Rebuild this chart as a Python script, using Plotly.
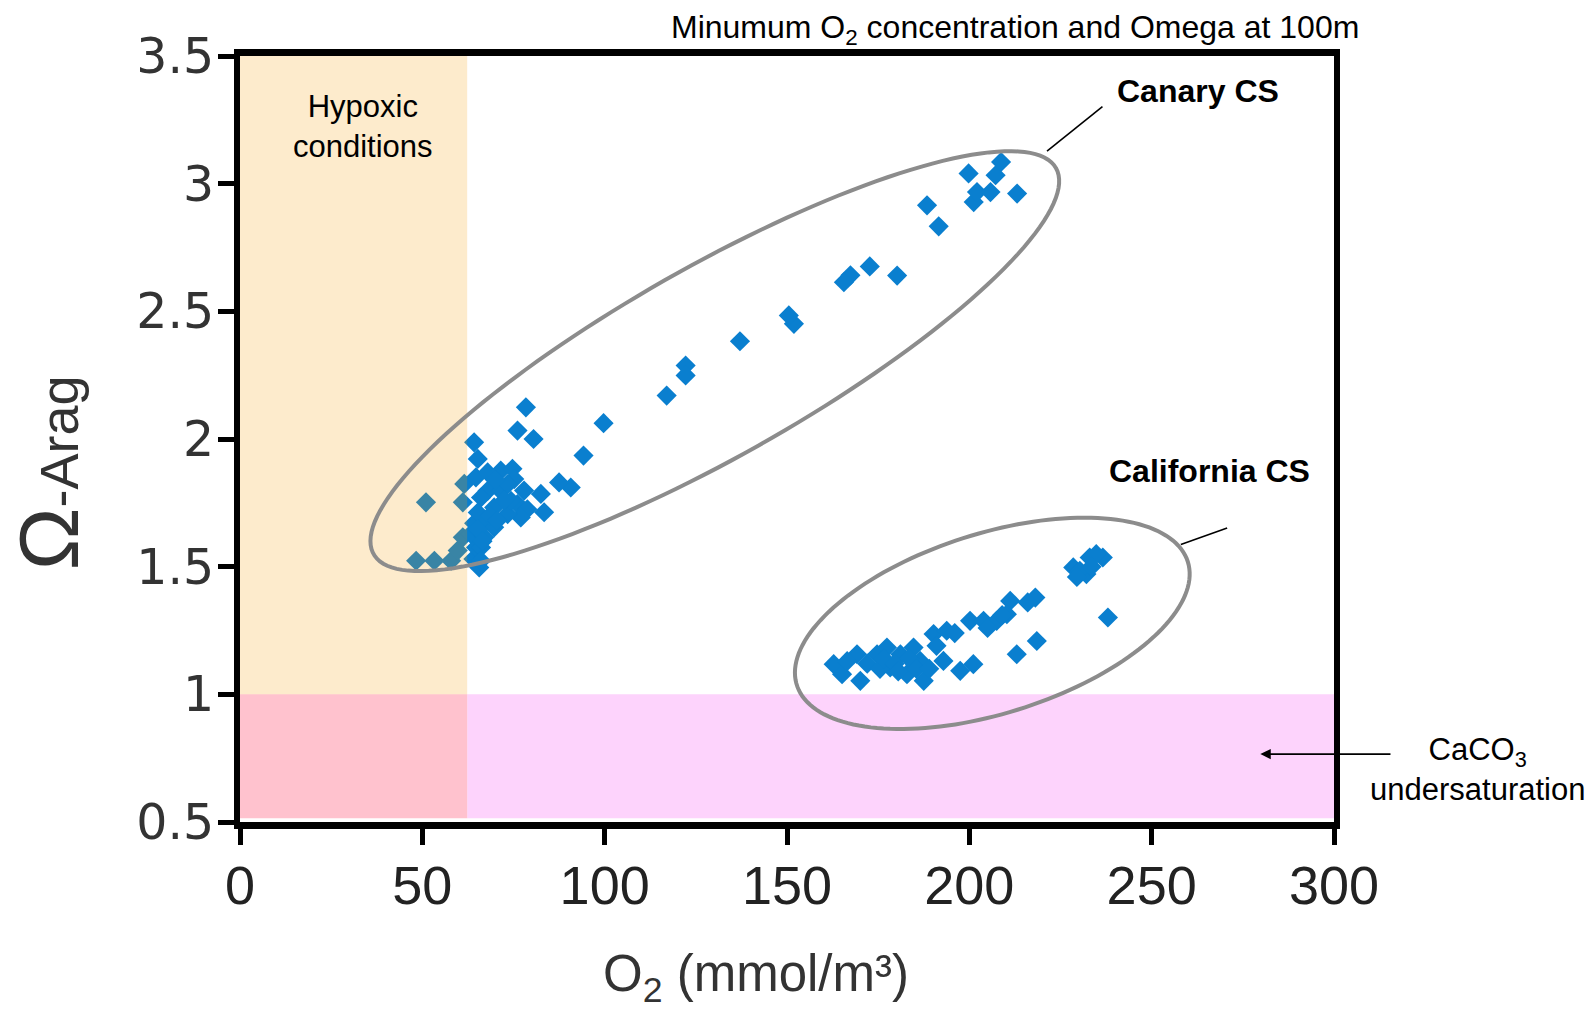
import numpy as np
import plotly.graph_objects as go

# Minimum O2 (mmol/m3) and aragonite saturation at 100 m
canary_o2 = [
    188.4, 191.6, 199.8, 201.2, 202.1, 205.8, 207.2, 208.7, 213.1,
    180.2, 172.7, 167.4, 165.6, 151.9, 150.5, 137.1, 122.2, 122.2, 117.0,
    99.7, 94.2, 90.7, 87.5, 83.4, 82.5, 80.5, 78.4, 76.1,
    64.2, 65.2, 51.0, 61.1, 61.5, 48.3, 53.3, 57.9, 59.7, 61.1, 65.6,
    64.0, 64.7, 63.3, 64.2,
    64.7, 67.9, 71.5, 74.7, 75.2, 77.9, 76.1, 78.8, 77.0, 73.4, 69.7,
    67.9, 71.5, 66.1, 65.2, 67.9, 69.7, 67.0, 65.2, 66.1, 66.1, 74.3,
    73.4, 70.0, 72.5, 68.5, 70.5, 66.5,
]
canary_omega = [
    2.915, 2.833, 3.040, 2.928, 2.967, 2.967, 3.033, 3.085, 2.961,
    2.640, 2.676, 2.641, 2.614, 2.451, 2.484, 2.383, 2.288, 2.249, 2.170,
    2.062, 1.935, 1.810, 1.830, 1.713, 1.785, 2.000, 2.124, 2.033,
    1.987, 1.922, 1.752, 1.752, 1.824, 1.523, 1.523, 1.523, 1.563, 1.615, 1.497,
    1.530, 1.575, 1.628, 1.670,
    1.850, 1.869, 1.876, 1.883, 1.843, 1.798, 1.745, 1.725, 1.693, 1.706, 1.732,
    1.797, 1.797, 1.771, 1.712, 1.680, 1.654, 1.615, 1.647, 1.575, 1.523, 1.758,
    1.823, 1.840, 1.760, 1.700, 1.680, 1.600,
]

california_o2 = [
    162.8, 165.1, 169.2, 170.1, 174.7, 177.4, 178.3, 181.1, 182.9, 184.7,
    186.5, 187.5, 190.2, 192.9, 193.8, 197.5, 201.1, 200.2, 203.9, 207.5,
    211.2, 210.3, 213.0, 218.1, 218.5, 228.5, 233.0, 236.6, 232.1, 238.0,
    230.3, 234.8,
    166.5, 172.0, 175.5, 176.5, 179.5, 180.5, 183.5, 185.5, 189.0, 191.0,
    196.0, 205.0, 209.0, 216.0, 229.5, 233.5,
]
california_omega = [
    1.118, 1.079, 1.157, 1.053, 1.157, 1.183, 1.105, 1.157, 1.079, 1.183,
    1.131, 1.053, 1.236, 1.131, 1.249, 1.092, 1.118, 1.288, 1.288, 1.288,
    1.366, 1.314, 1.157, 1.379, 1.209, 1.497, 1.536, 1.536, 1.471, 1.301,
    1.484, 1.549,
    1.130, 1.120, 1.100, 1.140, 1.120, 1.090, 1.140, 1.100, 1.100, 1.190,
    1.240, 1.260, 1.310, 1.360, 1.460, 1.500,
]

x_ticks = [0, 50, 100, 150, 200, 250, 300]
y_ticks = [0.5, 1, 1.5, 2, 2.5, 3, 3.5]
y_tick_text = ["0.5", "1", "1.5", "2", "2.5", "3", "3.5"]

W, H = 1593, 1014
MARGIN = dict(l=240, r=259, t=56, b=192)
X_RANGE = [0, 300]
Y_RANGE = [0.5, 3.5]
PX_X = (W - MARGIN["l"] - MARGIN["r"]) / (X_RANGE[1] - X_RANGE[0])
PX_Y = (H - MARGIN["t"] - MARGIN["b"]) / (Y_RANGE[1] - Y_RANGE[0])

FONT = "Liberation Sans, Arial, sans-serif"
POINT_BLUE = "#0A7FCF"
HYPOXIC_O2 = 62.3


def ellipse_path(cx, cy, a_px, b_px, angle_deg, n=160):
    """Closed SVG path (data units) of an ellipse whose axes are given in screen pixels."""
    t = np.linspace(0, 2 * np.pi, n)
    th = np.radians(angle_deg)
    u = a_px * np.cos(t)
    v = b_px * np.sin(t)
    dx = u * np.cos(th) - v * np.sin(th)
    dy = u * np.sin(th) + v * np.cos(th)
    xs = cx + dx / PX_X
    ys = cy + dy / PX_Y
    pts = [f"{x:.3f},{y:.4f}" for x, y in zip(xs, ys)]
    return "M " + " L ".join(pts) + " Z"


fig = go.Figure()

fig.add_trace(go.Scatter(
    x=canary_o2, y=canary_omega, mode="markers", name="Canary CS",
    marker=dict(symbol="diamond", size=15.5, color=POINT_BLUE, line=dict(width=0)),
    cliponaxis=False,
))
fig.add_trace(go.Scatter(
    x=california_o2, y=california_omega, mode="markers", name="California CS",
    marker=dict(symbol="diamond", size=15.5, color=POINT_BLUE, line=dict(width=0)),
    cliponaxis=False,
))

shapes = [
    # CaCO3 undersaturation band (Omega < 1)
    dict(type="rect", xref="x", yref="y", x0=HYPOXIC_O2, x1=300, y0=0.515, y1=1.0,
         fillcolor="rgba(248,80,245,0.25)", line=dict(width=0), layer="below"),
    # hypoxic and undersaturated corner
    dict(type="rect", xref="x", yref="y", x0=0, x1=HYPOXIC_O2, y0=0.515, y1=1.0,
         fillcolor="#FFC2CE", line=dict(width=0), layer="below"),
    # hypoxic band, drawn over the points
    dict(type="rect", xref="x", yref="y", x0=0, x1=HYPOXIC_O2, y0=1.0, y1=3.545,
         fillcolor="rgba(245,155,0,0.2)", line=dict(width=0), layer="above"),
    # cluster outlines
    dict(type="path", xref="x", yref="y",
         path=ellipse_path(130.2, 2.305, 392, 95, 29.5),
         line=dict(color="#8C8C8C", width=4), layer="above"),
    dict(type="path", xref="x", yref="y",
         path=ellipse_path(206.3, 1.278, 205, 90, 17.5),
         line=dict(color="#8C8C8C", width=4), layer="above"),
    # label leaders
    dict(type="line", xref="x", yref="y", x0=236.5, y0=3.302, x1=221.3, y1=3.127,
         line=dict(color="black", width=1.6), layer="above"),
    dict(type="line", xref="x", yref="y", x0=270.7, y0=1.651, x1=258.0, y1=1.587,
         line=dict(color="black", width=1.6), layer="above"),
]

annotations = [
    dict(text="Minumum O<sub>2</sub> concentration and Omega at 100m",
         xref="paper", yref="paper", x=0.708, y=1.035, xanchor="center", yanchor="middle",
         showarrow=False, font=dict(family=FONT, size=32, color="black")),
    dict(text="Hypoxic<br>conditions", xref="x", yref="y", x=33.7, y=3.223,
         xanchor="center", yanchor="middle",
         showarrow=False, font=dict(family=FONT, size=31, color="black")),
    dict(text="<b>Canary CS</b>", xref="x", yref="y", x=262.6, y=3.362,
         xanchor="center", yanchor="middle",
         showarrow=False, font=dict(family=FONT, size=32, color="black")),
    dict(text="<b>California CS</b>", xref="x", yref="y", x=265.8, y=1.873,
         xanchor="center", yanchor="middle",
         showarrow=False, font=dict(family=FONT, size=32, color="black")),
    dict(text="CaCO<sub>3</sub><br>undersaturation", xref="paper", yref="paper",
         x=1.131, y=0.069, xanchor="center", yanchor="middle", showarrow=False,
         font=dict(family=FONT, size=31, color="black")),
    dict(text="", xref="x", yref="y", x=279.8, y=0.766, axref="x", ayref="y",
         ax=315.9, ay=0.766, showarrow=True, arrowhead=2, arrowsize=1.3,
         arrowwidth=1.6, arrowcolor="black"),
    dict(text="O<sub>2</sub> (mmol/m³)", xref="paper", yref="paper",
         x=0.472, y=-0.203, xanchor="center", yanchor="middle", showarrow=False,
         font=dict(family=FONT, size=51, color="#333333")),
    dict(text="<span style='font-size:84px'>Ω</span>-Arag", xref="paper", yref="paper",
         x=-0.175, y=0.456, xanchor="center", yanchor="middle",
         showarrow=False, textangle=-90,
         font=dict(family=FONT, size=54, color="#333333")),
]

fig.update_layout(
    width=W, height=H, margin=MARGIN,
    paper_bgcolor="white", plot_bgcolor="white",
    showlegend=False, shapes=shapes, annotations=annotations,
    xaxis=dict(
        range=X_RANGE, tickvals=x_ticks, ticktext=[str(v) for v in x_ticks],
        showgrid=False, zeroline=False,
        showline=True, linecolor="black", linewidth=7, mirror=True,
        ticks="outside", ticklen=16, tickwidth=5, tickcolor="black",
        ticklabelstandoff=-6,
        tickfont=dict(family=FONT, size=54, color="#222222"),
    ),
    yaxis=dict(
        range=Y_RANGE, tickvals=y_ticks, ticktext=y_tick_text,
        showgrid=False, zeroline=False,
        showline=True, linecolor="black", linewidth=6, mirror=True,
        ticks="outside", ticklen=16, tickwidth=5, tickcolor="black",
        ticklabelstandoff=-6,
        tickfont=dict(family="DejaVu Sans, sans-serif", size=49, color="#333333"),
    ),
)

fig.write_html("out.html")
